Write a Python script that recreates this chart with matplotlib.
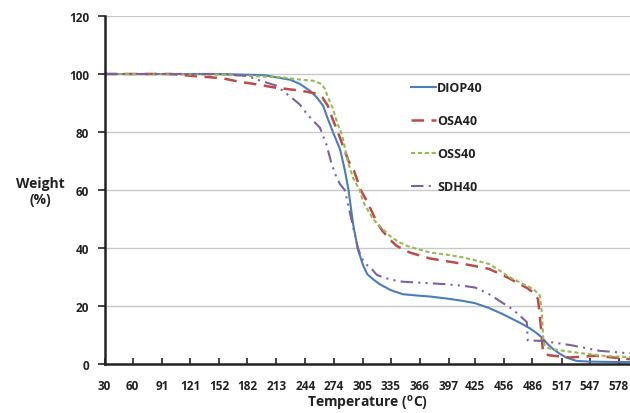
import matplotlib
matplotlib.use("Agg")
import matplotlib.pyplot as plt

plt.rcParams['font.family'] = ['Open Sans', 'DejaVu Sans']
plt.rcParams['mathtext.fontset'] = 'custom'
plt.rcParams['mathtext.bf'] = 'Open Sans:bold'

# tick labels on the temperature axis
temp_ticks = [30, 60, 91, 121, 152, 182, 213, 244, 274, 305, 335, 366, 397,
              425, 456, 486, 517, 547, 578]

# DIOP40
t_diop = [30, 100, 150, 200, 228, 238, 249, 256, 263, 268, 274, 281, 286,
          290, 295, 300, 305.6, 310, 316, 323, 335, 348, 365, 377, 395, 412,
          425, 440, 452, 462, 473, 483, 490, 496, 502, 508, 515, 522, 533,
          545, 561, 590]
w_diop = [100, 100, 100, 99.6, 98, 96.6, 94.2, 92, 89, 84.5, 79.5, 74, 67,
          60, 48, 39.5, 34, 31, 29.3, 27.6, 25.5, 24.1, 23.6, 23.3, 22.6, 21.8,
          21, 19.3, 17.6, 16, 14.2, 12.4, 10.8, 9.2, 7, 5.2, 3.6, 2.3, 1.1,
          0.9, 0.8, 0.7]

# OSA40
t_osa = [30, 100, 121, 142, 156, 174, 195, 210, 225, 238, 250, 256, 262,
         268, 273, 278.6, 284, 290, 296, 303, 309, 315, 320, 326, 334, 341,
         355, 377, 400, 420, 440, 448, 460, 469, 480, 487, 492, 495, 497, 499,
         505, 526, 553, 590]
w_osa = [100, 100, 99.4, 98.9, 98.5, 97.3, 96.3, 95.4, 94.8, 94.3, 93.6,
         93.2, 92, 89, 84.5, 80, 75.3, 70, 66.5, 60, 56.5, 52.5, 49, 46, 43,
         40.8, 38.5, 36.4, 35.2, 34.1, 32.8, 31.6, 29.8, 28.2, 26.3, 24.7,
         22.4, 13, 5.2, 3.4, 3, 2.3, 2.9, 1.7]

# OSS40
t_oss = [30, 150, 217, 240, 252, 261, 265, 268, 273.5, 278, 282, 284, 290,
         295, 301.5, 305.6, 316, 325, 334, 343, 352, 365, 377, 395, 412, 425,
         440, 450, 462, 475, 487, 494, 496, 497.5, 499, 503, 510, 519, 530,
         550, 560, 590]
w_oss = [100, 99.8, 98.9, 98, 97.7, 96.6, 94.8, 92, 88, 83, 80, 77.6, 69,
         64, 60.3, 56, 50, 47, 44.2, 42.2, 40.8, 39.5, 38.5, 37.7, 36.8, 35.8,
         34.5, 32.5, 29.9, 27.8, 25.9, 23.6, 18, 8.6, 6.5, 5.5, 5, 4.6, 4.1,
         3.3, 2.9, 2.4]

# SDH40
t_sdh = [30, 150, 181, 196, 213, 231, 238, 245, 252, 259.5, 266.6, 272, 277,
         281, 286, 293, 300, 304, 308, 313, 320, 327, 337, 348, 365, 377, 395,
         412, 425, 440, 450, 462, 470, 480, 481, 497, 505, 526, 557.6, 590]
w_sdh = [100, 100, 99.4, 97.7, 96, 91.4, 89.5, 86.5, 84, 81.5, 75.5, 69,
         64.5, 62, 60, 50, 40, 36.5, 34.5, 33.5, 30.8, 29.9, 29, 28.4, 28.1,
         27.9, 27.5, 27, 26.4, 24.1, 22, 19.5, 17.5, 14.5, 8.2, 8.0, 7.6, 6.6,
         4.6, 3.7]

fig = plt.figure(figsize=(6.3, 4.14), dpi=100)
ax = fig.add_axes([0.166, 0.118, 0.834, 0.841])

ax.plot(t_diop, w_diop, color='#4a7ebb', lw=1.5, ls='-', label='DIOP40')
ax.plot(t_osa, w_osa, color='#be4b48', lw=1.8, ls=(0, (5, 3)), label='OSA40')
ax.plot(t_oss, w_oss, color='#98b954', lw=1.5, ls=(0, (2, 1.3)), label='OSS40')
ax.plot(t_sdh, w_sdh, color='#7d60a0', lw=1.5,
        ls=(0, (6, 2.5, 1, 2.5, 1, 2.5)), label='SDH40')

ax.set_xlim(30, 590)
ax.set_ylim(0, 120)
ax.set_yticks(range(0, 121, 20))
ax.set_xticks(temp_ticks)
ax.set_xticklabels([str(t) for t in temp_ticks])
ax.yaxis.grid(True, color='#c8c8c8', lw=1)
ax.set_axisbelow(True)

for side in ['top', 'right']:
    ax.spines[side].set_visible(False)
for side in ['left', 'bottom']:
    ax.spines[side].set_linewidth(1.8)
    ax.spines[side].set_color('#222222')

ax.tick_params(axis='y', direction='out', length=5, width=1.2, pad=6,
               labelsize=8.5, labelcolor='#222222', color='#222222')
ax.tick_params(axis='x', direction='in', length=4, width=1.2, pad=11,
               labelsize=8.5, labelcolor='#222222', color='#222222')
for lab in ax.get_xticklabels() + ax.get_yticklabels():
    lab.set_fontweight('bold')

# axis titles
fig.text(367 / 630, 1 - 404 / 414, r'Temperature ($\mathbf{^o}$C)',
         ha='center', va='center', fontsize=10, fontweight='bold',
         color='#222222')
fig.text(40 / 630, 1 - 192 / 414, 'Weight\n(%)', ha='center', va='center',
         fontsize=10, fontweight='bold', color='#222222', linespacing=1.2)

leg = ax.legend(loc='upper left', bbox_to_anchor=(411 / 630, 1 - 82 / 414),
                bbox_transform=fig.transFigure, frameon=False, fontsize=9,
                handlelength=2.0, handletextpad=0.1, labelspacing=1.6,
                borderaxespad=0, borderpad=0)
for txt in leg.get_texts():
    txt.set_fontweight('bold')
    txt.set_color('#222222')

fig.savefig('out.png', dpi=100)
